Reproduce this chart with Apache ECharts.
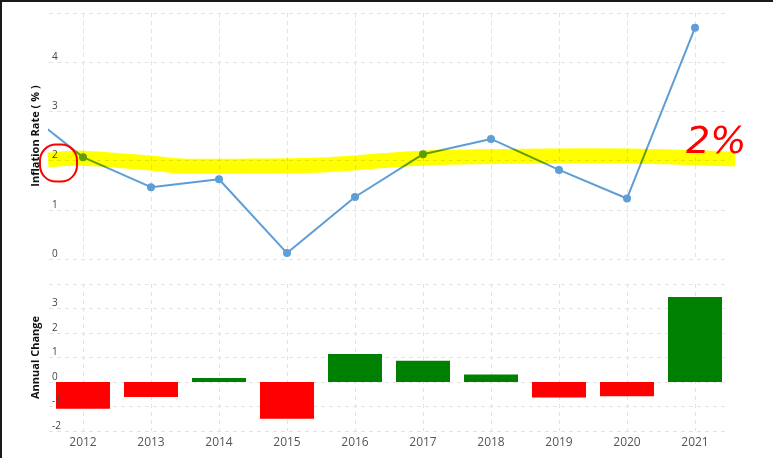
<!DOCTYPE html>
<html>
<head>
<meta charset="utf-8">
<script src="https://cdn.jsdelivr.net/npm/echarts@6/dist/echarts.min.js"></script>
<style>
html,body{margin:0;padding:0;background:#fff;}
#chart{width:773px;height:458px;}
</style>
</head>
<body>
<div id="chart"></div>
<script>
// ---- data ----
const lineYears = [2011, 2012, 2013, 2014, 2015, 2016, 2017, 2018, 2019, 2020, 2021];
const inflationRate = [3.16, 2.07, 1.46, 1.62, 0.12, 1.26, 2.13, 2.44, 1.81, 1.23, 4.70];
const barYears = [2012, 2013, 2014, 2015, 2016, 2017, 2018, 2019, 2020, 2021];
const annualChange = [-1.09, -0.61, 0.16, -1.50, 1.14, 0.87, 0.31, -0.63, -0.58, 3.47];
const topTicks = [0, 1, 2, 3, 4, 5];
const bottomTicks = [-2, -1, 0, 1, 2, 3, 4];
// hand-drawn annotation (yellow highlighter path around the 2% level), in data coords
const highlightPath = [[2011.485, 2.01], [2012.0, 2.05], [2012.99, 1.95], [2013.43, 1.89], [2014.46, 1.89],
  [2015.49, 1.91], [2016.96, 2.05], [2018.57, 2.09], [2020.19, 2.09], [2021.59, 2.03]];
const annotationText = '2%';

const chart = echarts.init(document.getElementById('chart'), null, {renderer: 'canvas'});
const gridColor = '#e3e3e3';
const xMin = 2011.5, xMax = 2021.5;

function xAxisCfg(gridIndex, showLabels) {
  return {
    type: 'value', gridIndex: gridIndex, min: xMin, max: xMax, position: 'bottom',
    axisLine: {show: false},
    axisTick: {show: false, customValues: barYears},
    axisLabel: {show: showLabels, customValues: barYears, color: '#555', fontSize: 12,
      fontFamily: 'Open Sans', margin: 6, formatter: v => String(v)},
    splitLine: {show: true, lineStyle: {color: gridColor, type: [4, 4], width: 1}}
  };
}
// split lines only (drawn beneath the series)
function yGridCfg(gridIndex, ticks) {
  return {
    type: 'value', gridIndex: gridIndex, position: 'left', offset: 0,
    min: ticks[0], max: ticks[ticks.length - 1], interval: 1,
    axisLine: {show: false}, axisTick: {show: false}, axisLabel: {show: false},
    splitLine: {show: true, lineStyle: {color: gridColor, type: [4, 4], width: 1}}
  };
}
// labels and title (drawn above the series)
function yLabelCfg(gridIndex, ticks, name) {
  return {
    type: 'value', gridIndex: gridIndex, position: 'left', offset: 0,
    min: ticks[0], max: ticks[ticks.length - 1], interval: 1, z: 5,
    name: name, nameLocation: 'middle', nameGap: 3, nameRotate: 90,
    nameTextStyle: {color: '#111', fontWeight: 'bold', fontSize: 11, fontFamily: 'Open Sans'},
    axisLine: {show: false}, axisTick: {show: false}, splitLine: {show: false},
    axisLabel: {inside: true, showMaxLabel: false, color: '#444', fontSize: 10, fontFamily: 'Open Sans',
      verticalAlign: 'bottom', margin: 3, align: 'left'}
  };
}

const option = {
  animation: false,
  backgroundColor: '#fff',
  grid: [
    {left: 49, width: 680, top: 13, height: 246},
    {left: 49, width: 680, top: 284, height: 147}
  ],
  xAxis: [xAxisCfg(0, false), xAxisCfg(1, true)],
  yAxis: [yGridCfg(0, topTicks), yGridCfg(1, bottomTicks),
          yLabelCfg(0, topTicks, 'Inflation Rate ( % )'), yLabelCfg(1, bottomTicks, 'Annual Change')],
  series: [
    {
      type: 'line', xAxisIndex: 0, yAxisIndex: 0, clip: true,
      data: lineYears.map((y, i) => [y, inflationRate[i]]),
      symbol: 'circle', symbolSize: 8, showSymbol: true,
      lineStyle: {color: 'rgb(95,157,214)', width: 2},
      itemStyle: {color: 'rgb(95,157,214)'}
    },
    {
      type: 'bar', xAxisIndex: 1, yAxisIndex: 1, barWidth: 54,
      data: barYears.map((y, i) => ({value: [y, annualChange[i]],
        itemStyle: {color: annualChange[i] < 0 ? '#ff0000' : '#008000'}}))
    }
  ]
};
chart.setOption(option);

const pts = highlightPath.map(p => chart.convertToPixel({xAxisIndex: 0, yAxisIndex: 0}, p));
const circleCenter = chart.convertToPixel({xAxisIndex: 0, yAxisIndex: 0}, [xMin, 2]);
chart.setOption({
  graphic: [
    {type: 'polyline', z: 100, silent: true,
      shape: {points: pts, smooth: 0.3},
      style: {stroke: '#ffff00', lineWidth: 15, fill: null, lineJoin: 'round', lineCap: 'butt', blend: 'multiply'}},
    {type: 'rect', z: 101, silent: true,
      shape: {x: circleCenter[0] - 9, y: circleCenter[1] - 16, width: 37, height: 37, r: 16},
      style: {stroke: '#ff0000', lineWidth: 2, fill: null}},
    {type: 'text', z: 101, silent: true, left: 686, top: 124,
      style: {text: annotationText, fill: '#ff0000', fontSize: 38, fontFamily: 'DejaVu Sans', fontWeight: 'normal', fontStyle: 'italic'}},
    {type: 'rect', z: 102, silent: true, shape: {x: 0, y: 0, width: 773, height: 2}, style: {fill: '#1a1a1a'}},
    {type: 'rect', z: 102, silent: true, shape: {x: 0, y: 0, width: 2, height: 458}, style: {fill: '#1a1a1a'}}
  ]
});
</script>
</body>
</html>
